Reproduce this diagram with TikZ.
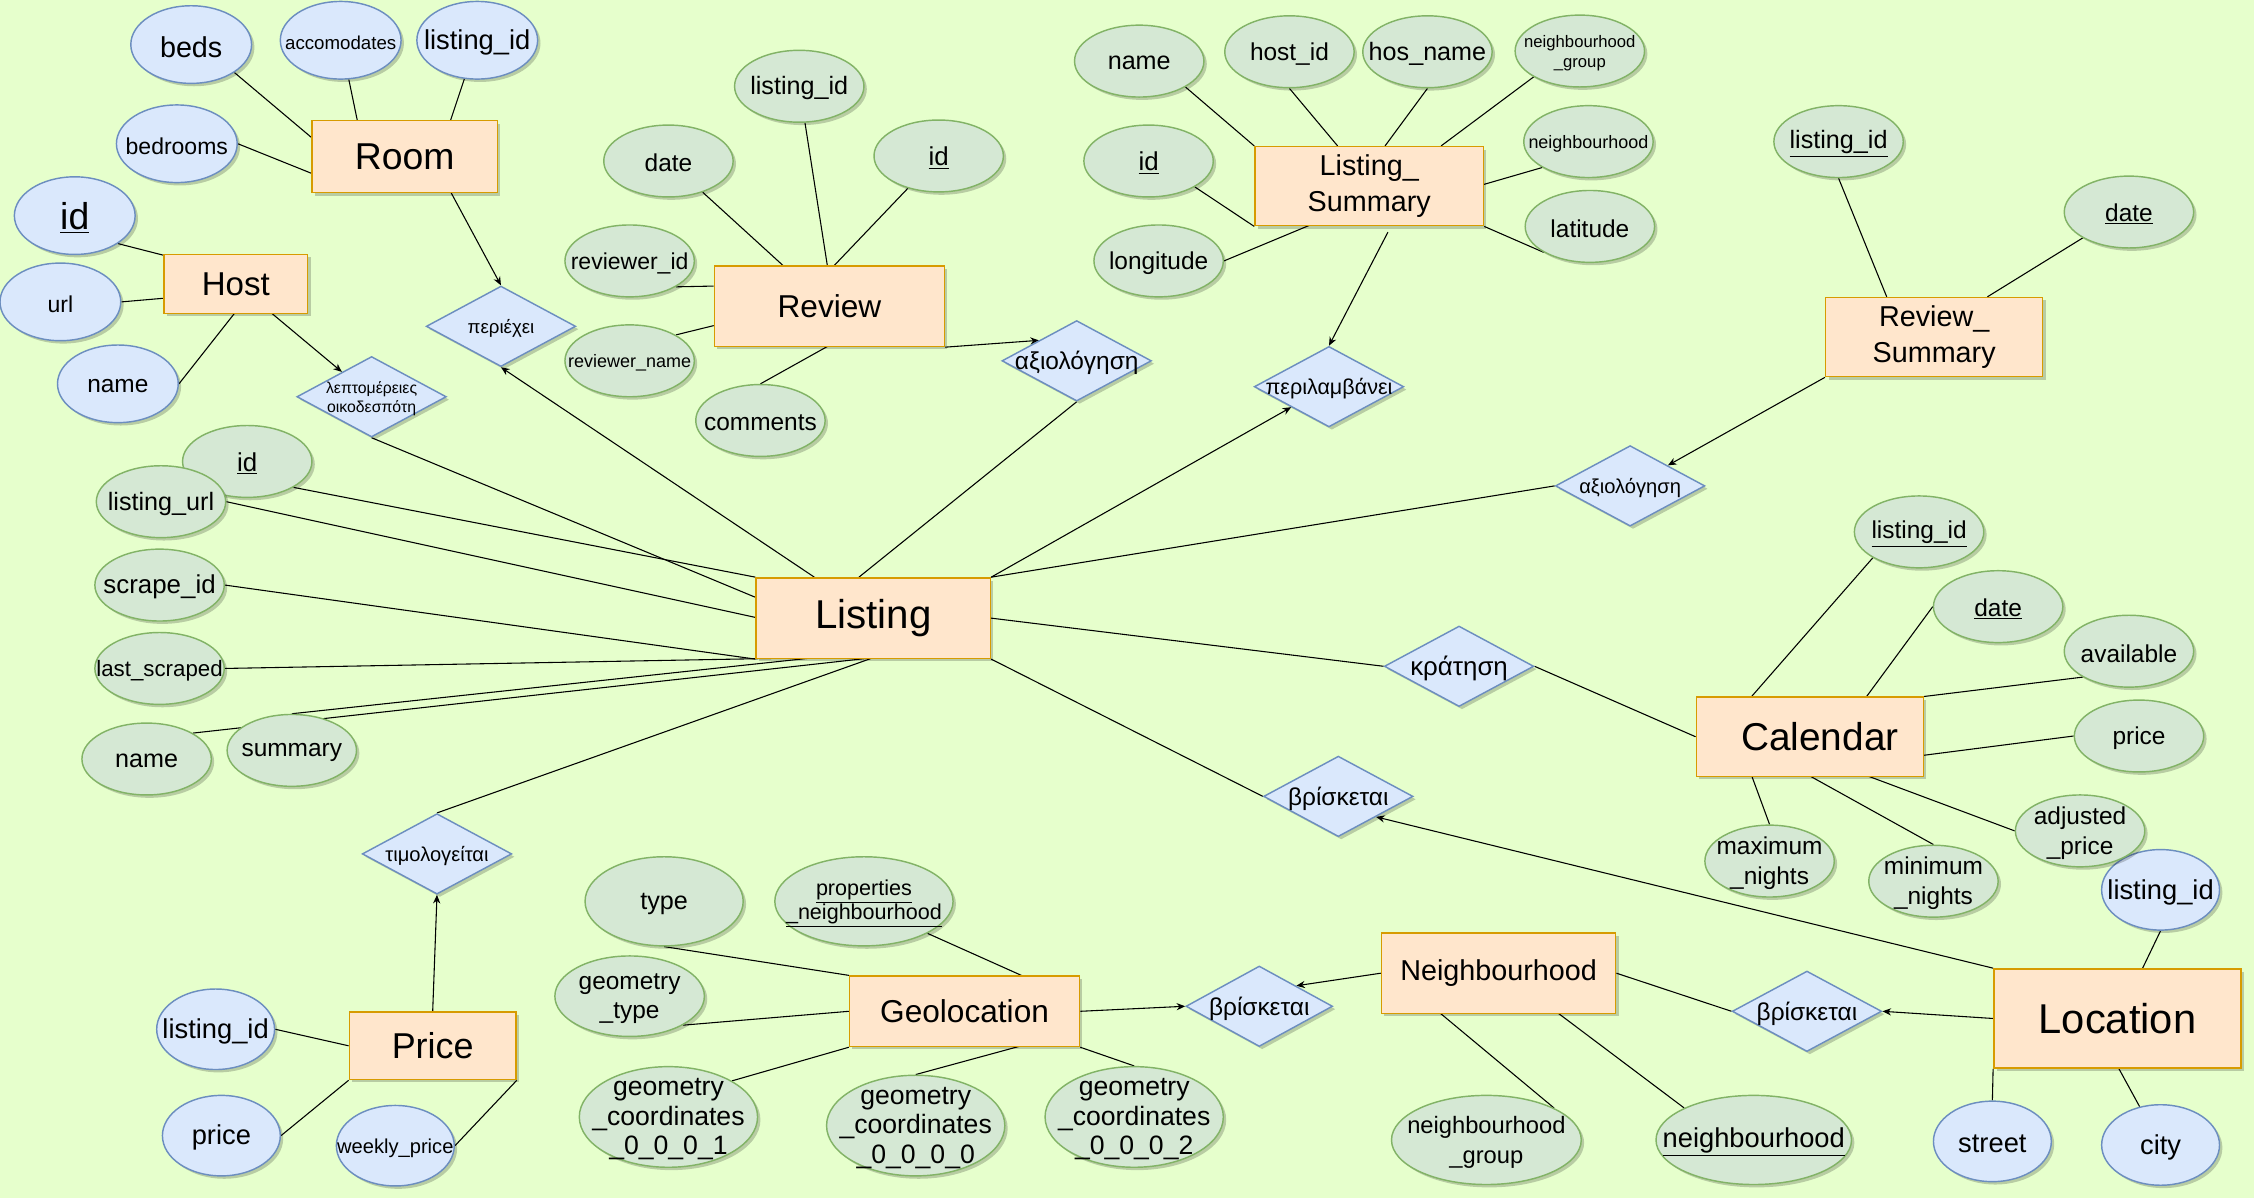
\documentclass[tikz,border=0pt]{standalone}
\usepackage{fontspec}
\setmainfont{Liberation Sans}
\usetikzlibrary{shapes.geometric,arrows.meta,shadows,calc}
\pgfdeclarelayer{back}
\pgfdeclarelayer{edges}
\pgfsetlayers{back,edges,main}
\definecolor{bgc}{HTML}{E6FFCC}
\definecolor{entf}{HTML}{FFE6CC}
\definecolor{entd}{HTML}{D79B00}
\definecolor{bluf}{HTML}{DAE8FC}
\definecolor{blud}{HTML}{6C8EBF}
\definecolor{grnf}{HTML}{D5E8D4}
\definecolor{grnd}{HTML}{82B366}
\tikzset{
  shd/.style={drop shadow={shadow xshift=2pt,shadow yshift=-2pt,opacity=0.2,fill=black}},
  fs/.style 2 args={font=\fontsize{#1}{#2}\selectfont},
  T/.style n args={3}{label={[font=\fontsize{#1}{#2}\selectfont]center:{#3}}},
  every label/.style={align=center,inner sep=0pt,yshift=-1.5pt},
  ent/.style={rectangle,draw=entd,fill=entf,line width=1pt,inner sep=0pt,align=center,shd},
  ab/.style={ellipse,draw=blud,fill=bluf,line width=1pt,inner sep=0pt,minimum width=84pt,minimum height=54pt,shd},
  ag/.style={ellipse,draw=grnd,fill=grnf,line width=1pt,inner sep=0pt,minimum width=90pt,minimum height=50pt,shd},
  rel/.style={diamond,draw=blud,fill=bluf,line width=1pt,inner sep=0pt,minimum width=104pt,minimum height=56pt,shd},
  ln/.style={draw=black,line width=0.75pt},
  ar/.style={-{Stealth[length=6pt,width=5pt]}},
}
\begin{document}
\begin{tikzpicture}[x=1pt,y=-1pt]
\useasboundingbox (0,0) rectangle (1568,833.4);
\begin{pgfonlayer}{back}
\fill[bgc] (0,0) rectangle (1568,833.4);
\end{pgfonlayer}

% ---------- entities ----------
\node[ent,minimum width=129pt,minimum height=50pt,fs={26}{30}] (room) at (281.5,109) {Room};
\node[ent,minimum width=100pt,minimum height=41pt,fs={23}{27}] (host) at (164,197.5) {Host};
\node[ent,minimum width=160pt,minimum height=56pt,fs={22}{26}] (review) at (577,213) {Review};
\node[ent,minimum width=159pt,minimum height=55pt,fs={20}{25}] (ls) at (952.5,129.5) {Listing\_\\Summary};
\node[ent,minimum width=151pt,minimum height=55pt,fs={20}{25}] (rs) at (1345.5,234.5) {Review\_\\Summary};
\node[ent,minimum width=163pt,minimum height=56pt,fs={28}{32}] (listing) at (607.5,430) {\raisebox{-2pt}{Listing}};
\node[ent,minimum width=158pt,minimum height=55pt,fs={27}{31}] (cal) at (1259,512.5) {\hspace*{14pt}Calendar};
\node[ent,minimum width=116pt,minimum height=47pt,fs={25}{29}] (price) at (301,727.5) {Price};
\node[ent,minimum width=160pt,minimum height=49pt,fs={22}{26}] (geo) at (671,703.5) {Geolocation};
\node[ent,minimum width=163pt,minimum height=56pt,fs={20}{24}] (nbh) at (1042.5,677) {Neighbourhood};
\node[ent,minimum width=172pt,minimum height=69pt,fs={29}{33}] (loc) at (1473,708.5) {Location};

% ---------- relationships ----------
\node[rel,T={11}{13.2}{λεπτομέρειες\\οικοδεσπότη}] (lept) at (258.5,276) {};
\node[rel,T={13}{15}{περιέχει}] (periexei) at (348.5,227) {};
\node[rel,T={17}{20}{αξιολόγηση}] (axio1) at (749,251) {};
\node[rel,T={15}{18}{περιλαμβάνει}] (perilamb) at (924.5,269) {};
\node[rel,T={14}{17}{αξιολόγηση}] (axio2) at (1134,338) {};
\node[rel,T={18}{21}{κράτηση}] (kratisi) at (1015,463.5) {};
\node[rel,T={17}{20}{βρίσκεται}] (vrisk3) at (931,554) {};
\node[rel,T={14}{17}{τιμολογείται}] (timol) at (304,594) {};
\node[rel,minimum width=102pt,T={17}{20}{βρίσκεται}] (vrisk1) at (876,700) {};
\node[rel,T={17}{20}{βρίσκεται}] (vrisk2) at (1257,703.5) {};

% ---------- blue attributes ----------
\node[ab,T={20}{24}{beds}] (beds) at (133,31) {};
\node[ab,T={13}{15}{accomodates}] (accom) at (237,28) {};
\node[ab,T={19}{23}{listing\_id}] (rlid) at (332,28) {};
\node[ab,T={16}{19}{bedrooms}] (bedrooms) at (123,100) {};
\node[ab,T={26}{30}{\underline{id}}] (hid) at (52,150) {};
\node[ab,T={16}{19}{url}] (url) at (42,210) {};
\node[ab,T={17}{20}{name}] (hname) at (82,267) {};
\node[ab,minimum width=82pt,minimum height=56pt,T={19}{23}{listing\_id}] (plid) at (150,716) {};
\node[ab,minimum width=82pt,minimum height=56pt,T={19}{23}{price}] (pprice) at (154,790) {};
\node[ab,minimum width=82pt,minimum height=56pt,T={14}{17}{weekly\_price}] (weekly) at (275,797) {};
\node[ab,minimum width=82pt,minimum height=56pt,T={19}{23}{listing\_id}] (llid) at (1503,619) {};
\node[ab,minimum width=82pt,minimum height=56pt,T={19}{23}{street}] (street) at (1386,794) {};
\node[ab,minimum width=82pt,minimum height=56pt,T={19}{23}{city}] (city) at (1503,796.5) {};

% ---------- green attributes ----------
\node[ag,T={17.5}{21}{listing\_id}] (rvlid) at (556,60) {};
\node[ag,T={17}{20}{date}] (rdate) at (465,112) {};
\node[ag,T={18}{21}{\underline{id}}] (rvid) at (653,108.5) {};
\node[ag,T={16}{19}{reviewer\_id}] (revid) at (438,181.5) {};
\node[ag,T={12.5}{15}{reviewer\_name}] (revname) at (438,251) {};
\node[ag,T={17}{20}{comments}] (comments) at (529,292.5) {};
\node[ag,T={17.5}{21}{name}] (lsname) at (792.5,42.5) {};
\node[ag,T={17}{20}{host\_id}] (hostid) at (897,36) {};
\node[ag,T={17.5}{21}{hos\_name}] (hosname) at (993,36) {};
\node[ag,T={11.6}{14}{neighbourhood\\\_group}] (lsnbg) at (1099,35.5) {};
\node[ag,T={18}{21}{\underline{id}}] (lsid) at (799,112) {};
\node[ag,T={12.5}{15}{neighbourhood}] (lsnb) at (1105,98.5) {};
\node[ag,T={17}{20}{longitude}] (longit) at (806,181.5) {};
\node[ag,T={17}{20}{latitude}] (latit) at (1106,157.5) {};
\node[ag,T={17.5}{21}{\underline{listing\_id}}] (rslid) at (1279,98.5) {};
\node[ag,T={17}{20}{\underline{date}}] (rsdate) at (1481,147.5) {};
\node[ag,T={18}{21}{\underline{id}}] (lid) at (172,321) {};
\node[ag,T={17.5}{21}{listing\_url}] (lurl) at (112,349) {};
\node[ag,T={18}{21}{scrape\_id}] (scrape) at (111,407) {};
\node[ag,T={15.5}{18}{last\_scraped}] (lastscr) at (111,465) {};
\node[ag,T={17.5}{21}{name}] (lname) at (102,528) {};
\node[ag,T={17}{20}{summary}] (summary) at (203,522) {};
\node[ag,T={17}{20}{\underline{listing\_id}}] (clid) at (1335,370) {};
\node[ag,T={17}{20}{\underline{date}}] (cdate) at (1390,422) {};
\node[ag,T={17}{20}{available}] (avail) at (1481,453) {};
\node[ag,T={17}{20}{price}] (cprice) at (1488,512) {};
\node[ag,T={17}{21}{adjusted\\\_price}] (adj) at (1447,578) {};
\node[ag,T={17}{21}{maximum\\\_nights}] (maxn) at (1231,599) {};
\node[ag,T={17}{21}{minimum\\\_nights}] (minn) at (1345,613) {};
\node[ag,minimum width=110pt,minimum height=62pt,T={17.5}{21}{type}] (type) at (462,627) {};
\node[ag,minimum width=124pt,minimum height=62pt,T={15}{16.5}{\underline{properties}\\\underline{\_neighbourhood}}] (props) at (601,627) {};
\node[ag,minimum width=104pt,minimum height=56pt,T={17}{20}{geometry\\\_type}] (gtype) at (438,693) {};
\node[ag,minimum width=124pt,minimum height=70pt,T={18.5}{20.5}{geometry\\\_coordinates\\\_0\_0\_0\_1}] (gc1) at (465,777) {};
\node[ag,minimum width=124pt,minimum height=70pt,T={18.5}{20.5}{geometry\\\_coordinates\\\_0\_0\_0\_0}] (gc0) at (637,783) {};
\node[ag,minimum width=124pt,minimum height=70pt,T={18.5}{20.5}{geometry\\\_coordinates\\\_0\_0\_0\_2}] (gc2) at (789,777) {};
\node[ag,minimum width=132pt,minimum height=62pt,T={16.5}{21}{neighbourhood\\\_group}] (nbg) at (1034,793) {};
\node[ag,minimum width=136pt,minimum height=62pt,T={19}{22}{\underline{neighbourhood}}] (nb) at (1220,793) {};

% ---------- connectors ----------
\begin{pgfonlayer}{edges}
% Room
\draw[ln] (beds.south east) -- ($(room.north west)+(0,12)$);
\draw[ln] (accom) -- ($(room.north west)+(32,0)$);
\draw[ln] (rlid) -- ($(room.north west)+(97,0)$);
\draw[ln] (bedrooms.east) -- ($(room.north west)+(0,37)$);
\draw[ln,ar] ($(room.north west)+(97,50)$) -- (periexei.north);
% Host
\draw[ln] (hid.south east) -- ($(host.north west)+(0,1)$);
\draw[ln] (url.east) -- ($(host.north west)+(0,31)$);
\draw[ln] (hname.east) -- ($(host.north west)+(50,41)$);
\draw[ln,ar] ($(host.north west)+(75,41)$) -- (lept);
\draw[ln] (lept.south) -- ($(listing.north west)+(0,14)$);
\draw[ln,ar] ($(listing.north west)+(41,0)$) -- (periexei.south);
% Review
\draw[ln] (rdate) -- ($(review.north west)+(48,0)$);
\draw[ln] (rvlid) -- ($(review.north west)+(79,0)$);
\draw[ln] (rvid) -- ($(review.north west)+(84,0)$);
\draw[ln] (revid.south east) -- ($(review.north west)+(0,14.5)$);
\draw[ln] (revname.north east) -- ($(review.north west)+(0,42)$);
\draw[ln] (comments.north) -- ($(review.north west)+(80,56)$);
\draw[ln,ar] (review.south east) -- (axio1.north west);
\draw[ln] ($(listing.north west)+(72,0)$) -- (axio1.south);
% Listing_Summary
\draw[ln] (lsname.south east) -- (ls.north west);
\draw[ln] (hostid.south) -- ($(ls.north west)+(58,0)$);
\draw[ln] (hosname.south) -- ($(ls.north west)+(91,0)$);
\draw[ln] (lsnbg.south west) -- ($(ls.north west)+(130,0)$);
\draw[ln] (lsid.south east) -- (ls.south west);
\draw[ln] (longit.east) -- ($(ls.north west)+(39,55)$);
\draw[ln] (lsnb.south west) -- ($(ls.north west)+(159,27)$);
\draw[ln] (latit.south west) -- (ls.south east);
\draw[ln,ar] ($(ls.north west)+(93,60)$) -- (perilamb.north);
\draw[ln,ar] (listing.north east) -- (perilamb.south west);
% Review_Summary
\draw[ln] (rslid.south) -- ($(rs.north west)+(43,0)$);
\draw[ln] (rsdate.south west) -- ($(rs.north west)+(113,0)$);
\draw[ln,ar] (rs.south west) -- (axio2.north east);
\draw[ln] (listing.north east) -- (axio2.west);
% Listing attributes
\draw[ln] (lid.south east) -- (listing.north west);
\draw[ln] (lurl.east) -- ($(listing.north west)+(0,28)$);
\draw[ln] (scrape.east) -- (listing.south west);
\draw[ln] (lastscr.east) -- ($(listing.north west)+(41,56)$);
\draw[ln] (lname.north east) -- ($(listing.north west)+(82,56)$);
\draw[ln] (summary.north) -- ($(listing.north west)+(41,56)$);
% Price
\draw[ln] ($(listing.north west)+(82,56)$) -- (timol.north);
\draw[ln,ar] (price.north) -- (timol.south);
\draw[ln] (plid.east) -- (price.west);
\draw[ln] (pprice.east) -- (price.south west);
\draw[ln] (weekly.east) -- (price.south east);
% Calendar
\draw[ln] (listing.east) -- (kratisi.west);
\draw[ln] (kratisi.east) -- ($(cal.north west)+(0,28)$);
\draw[ln] (clid.south west) -- ($(cal.north west)+(39,0)$);
\draw[ln] (cdate.west) -- ($(cal.north west)+(119,0)$);
\draw[ln] (avail.south west) -- (cal.north east);
\draw[ln] (cprice.west) -- ($(cal.north west)+(158,41)$);
\draw[ln] (adj.west) -- ($(cal.north west)+(119,55)$);
\draw[ln] (maxn.north) -- ($(cal.north west)+(39,55)$);
\draw[ln] (minn.north) -- ($(cal.north west)+(79,55)$);
% Location / Listing
\draw[ln] (listing.south east) -- (vrisk3.west);
\draw[ln,ar] (loc.north west) -- (vrisk3.south east);
\draw[ln,ar] (loc.west) -- (vrisk2.east);
\draw[ln] (llid.south) -- ($(loc.north west)+(104,0)$);
\draw[ln] (street.north) -- (loc.south west);
\draw[ln] (city) -- ($(loc.north west)+(87,69)$);
% Neighbourhood
\draw[ln] (nbh.east) -- (vrisk2.west);
\draw[ln,ar] (nbh.west) -- (vrisk1.north east);
\draw[ln] (nbg.north east) -- ($(nbh.north west)+(41,56)$);
\draw[ln] (nb.north west) -- ($(nbh.north west)+(123,56)$);
% Geolocation
\draw[ln,ar] (geo.east) -- (vrisk1.west);
\draw[ln] (type.south) -- (geo.north west);
\draw[ln] (props.south east) -- ($(geo.north west)+(120,0)$);
\draw[ln] (gtype.south east) -- (geo.west);
\draw[ln] (gc1.north east) -- (geo.south west);
\draw[ln] (gc0.north) -- ($(geo.north west)+(120,49)$);
\draw[ln] (gc2.north) -- (geo.south east);
\end{pgfonlayer}
\end{tikzpicture}
\end{document}
